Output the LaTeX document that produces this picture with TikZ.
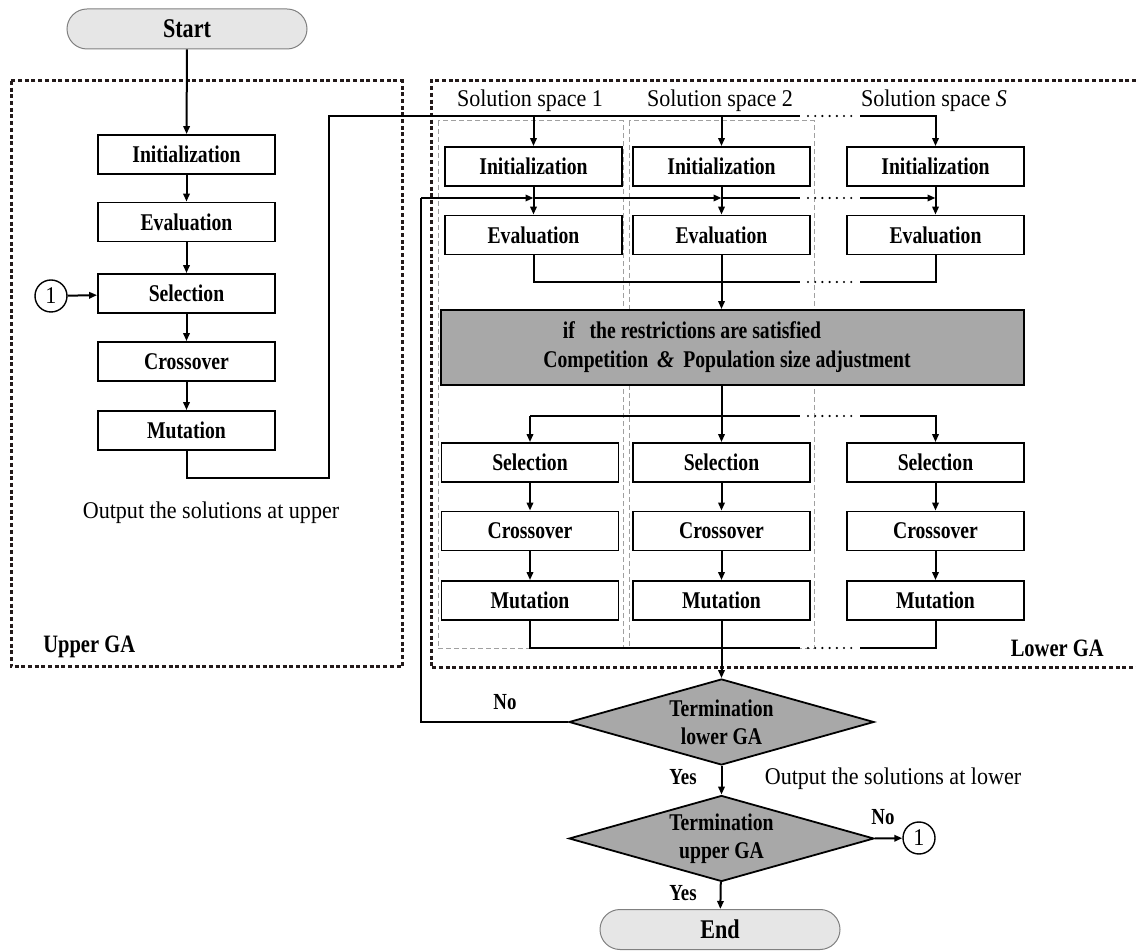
\documentclass[tikz,border=0pt]{standalone}
\usepackage{fontspec}
\setmainfont{Liberation Serif}
\newfontfamily\cfont[FakeStretch=0.82]{Liberation Serif}
\newfontfamily\rfont[FakeStretch=0.92]{Liberation Serif}
\usetikzlibrary{shapes.geometric,arrows.meta}
\definecolor{termfill}{HTML}{E6E6E6}
\definecolor{termdraw}{HTML}{808080}
\definecolor{grayfill}{HTML}{A8A8A8}
\definecolor{dotcol}{HTML}{231A1A}
\definecolor{colgray}{HTML}{A0A0A0}
\tikzset{
  box/.style={draw, line width=0.9pt, fill=white, minimum width=88.5pt, minimum height=19.5pt, inner sep=0pt, font=\cfont\bfseries\fontsize{12}{14}\selectfont},
  termbox/.style={draw=termdraw, line width=0.5pt, fill=termfill, rounded corners=10pt, minimum width=120pt, minimum height=20pt, inner sep=0pt, font=\cfont\bfseries\fontsize{13.5}{15}\selectfont},
  decbox/.style={diamond, aspect=3.55, draw, line width=0.9pt, fill=grayfill, minimum width=152.5pt, minimum height=43pt, inner sep=0pt, align=center, font=\cfont\bfseries\fontsize{12}{14}\selectfont},
  gbox/.style={draw, line width=0.9pt, fill=grayfill, minimum width=291.5pt, minimum height=37.5pt, inner sep=0pt},
  conn/.style={line width=1pt},
  arr/.style={line width=1pt, -{Triangle[length=4pt,width=3.2pt]}},
  bigdot/.style={line width=1.5pt, dash pattern=on 2pt off 1.35pt, draw=dotcol},
  smalldot/.style={line width=1.2pt, line cap=round, dash pattern=on 0pt off 3.6pt},
  colbox/.style={draw=colgray, line width=0.5pt, dash pattern=on 2.5pt off 1.5pt},
  circ/.style={circle, draw, line width=0.7pt, fill=white, minimum size=16pt, inner sep=0pt, font=\rfont\fontsize{12}{14}\selectfont},
  rtext/.style={inner sep=0pt, font=\rfont\fontsize{12}{14}\selectfont},
  btext/.style={inner sep=0pt, font=\cfont\bfseries\fontsize{12.5}{14}\selectfont},
  yn/.style={inner sep=0pt, font=\cfont\bfseries\fontsize{11.5}{13}\selectfont}
}
\begin{document}
\begin{tikzpicture}[x=0.5pt,y=-0.5pt]
\useasboundingbox (0,0) rectangle (1136,951);
% solution space columns
\draw[colbox] (438,121) rectangle (623,649);
\draw[colbox] (629,121) rectangle (814,649);
% big dotted regions
\draw[bigdot] (11,81) rectangle (402,667);
\draw[bigdot] (1136,81) -- (431,81) -- (431,668) -- (1136,668);

% nodes: upper GA
\node[termbox] (start) at (187,29) {Start};
\node[box] (initU) at (186.5,154.5) {Initialization};
\node[box] (evalU) at (186.5,222) {Evaluation};
\node[box] (selU) at (186.5,293.5) {Selection};
\node[box] (crosU) at (186.5,361.5) {Crossover};
\node[box] (mutU) at (186.5,430.5) {Mutation};
\node[circ] (c1L) at (51,296) {1};

% lower GA
\node[box] (init1) at (533.5,166.5) {Initialization};
\node[box] (init2) at (721.5,166.5) {Initialization};
\node[box] (initS) at (935.5,166.5) {Initialization};
\node[box] (eval1) at (533.5,235) {Evaluation};
\node[box] (eval2) at (721.5,235) {Evaluation};
\node[box] (evalS) at (935.5,235) {Evaluation};
\node[gbox] (comp) at (732.5,347.5) {};
\node[box, draw=none, fill=none] (compA) at (692,330) {if\ \ \ the restrictions are satisfied};
\node[box, draw=none, fill=none] (compB) at (727,362) {Competition \,{\rfont\itshape\&}\, Population size adjustment};
\node[box] (sel1) at (530,462.5) {Selection};
\node[box] (sel2) at (721.5,462.5) {Selection};
\node[box] (selS) at (935.5,462.5) {Selection};
\node[box] (cros1) at (530,531) {Crossover};
\node[box] (cros2) at (721.5,531) {Crossover};
\node[box] (crosS) at (935.5,531) {Crossover};
\node[box] (mut1) at (530,600.5) {Mutation};
\node[box] (mut2) at (721.5,600.5) {Mutation};
\node[box] (mutS) at (935.5,600.5) {Mutation};

\node[decbox] (dec1) at (721.5,722) {Termination\\lower GA};
\node[decbox] (dec2) at (721.5,838.5) {Termination\\upper GA};
\node[termbox] (end) at (720,929.5) {End};
\node[circ] (c1R) at (919,838) {1};

% labels
\node[rtext] (outU) at (211,513) {Output the solutions at upper};
\node[rtext] (outL) at (893,779) {Output the solutions at lower};
\node[btext, anchor=west] (upGA) at (43,647) {Upper GA};
\node[btext, anchor=east] (loGA) at (1104,648) {Lower GA};
\node[rtext] (ss1) at (530,101) {Solution space 1};
\node[rtext] (ss2) at (720,101) {Solution space 2};
\node[rtext] (ssS) at (934,101) {Solution space \textit{S}};
\node[yn] (no1) at (505,702) {No};
\node[yn] (yes1) at (683,777) {Yes};
\node[yn] (yes2) at (683,893) {Yes};
\node[yn] (no2) at (883,817) {No};

% upper GA connectors
\draw[arr] (start) -- (initU);
\draw[arr] (initU) -- (evalU);
\draw[arr] (evalU) -- (selU);
\draw[arr] (selU) -- (crosU);
\draw[arr] (crosU) -- (mutU);
\draw[arr] (c1L) -- (selU);

% from upper mutation to lower initialization
\draw[conn] (mutU.south) |- (329,478) |- (800,116);
\draw[arr] (init1.north |- 0,116) -- (init1.north);
\draw[arr] (init2.north |- 0,116) -- (init2.north);
\draw[smalldot] (808,116) -- (853,116);
\draw[arr] (860,116) -| (initS.north);

% init -> eval
\draw[arr] (init1) -- (eval1);
\draw[arr] (init2) -- (eval2);
\draw[arr] (initS) -- (evalS);

% No loop of lower termination
\coordinate (nocorner) at (421,198);
\draw[conn] (dec1.west) -| (nocorner);
\draw[arr] (nocorner) -- (init1.south |- 0,198);
\draw[arr] (init1.south |- 0,198) -- (init2.south |- 0,198);
\draw[conn] (init2.south |- 0,198) -- (800,198);
\draw[smalldot] (808,198) -- (853,198);
\draw[arr] (860,198) -- (initS.south |- 0,198);

% eval -> competition
\draw[conn] (eval1.south) |- (800,282);
\draw[arr] (eval2.south) -- (eval2.south |- comp.north);
\draw[smalldot] (808,282) -- (853,282);
\draw[conn] (860,282) -| (evalS.south);

% competition -> selection
\draw[conn] (sel2.north |- comp.south) -- (sel2.north |- 0,416);
\draw[conn] (sel1.north |- 0,416) -- (800,416);
\draw[arr] (sel1.north |- 0,416) -- (sel1.north);
\draw[arr] (sel2.north |- 0,416) -- (sel2.north);
\draw[smalldot] (808,416) -- (853,416);
\draw[arr] (860,416) -| (selS.north);

% selection -> crossover -> mutation
\draw[arr] (sel1) -- (cros1);
\draw[arr] (sel2) -- (cros2);
\draw[arr] (selS) -- (crosS);
\draw[arr] (cros1) -- (mut1);
\draw[arr] (cros2) -- (mut2);
\draw[arr] (crosS) -- (mutS);

% mutation -> termination
\draw[conn] (mut1.south) |- (800,648);
\draw[smalldot] (808,648) -- (853,648);
\draw[conn] (860,648) -| (mutS.south);
\draw[arr] (mut2.south) -- (dec1.north);

% terminations
\draw[arr] (dec1) -- (dec2);
\draw[arr] (dec2) -- (end);
\draw[arr] (dec2.east) -- (c1R);
\end{tikzpicture}
\end{document}
